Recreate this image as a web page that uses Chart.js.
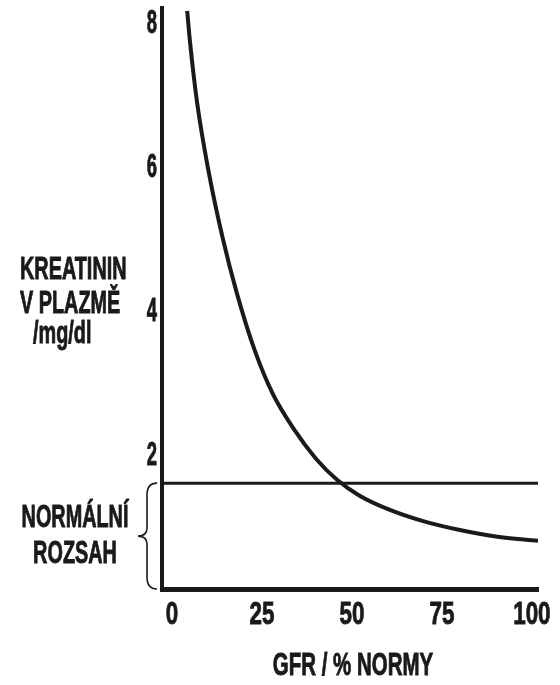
<!DOCTYPE html>
<html>
<head>
<meta charset="utf-8">
<script src="https://cdn.jsdelivr.net/npm/chart.js@4/dist/chart.umd.min.js"></script>
<style>
    html, body { margin: 0; padding: 0; background: #fff; }
    #wrap { position: relative; width: 560px; height: 685px; }
</style>
</head>
<body>
<div id="wrap"><canvas id="chart" width="560" height="685"></canvas></div>
<script>
// Curve: GFR (% of normal) vs plasma creatinine (mg/dl)
const gfrValues = [4.2, 5, 7, 10, 14, 18, 23, 28, 34, 40, 46, 52, 60, 70, 80, 90, 101.7];
const creatininValues = [8.14, 7.70, 6.85, 5.95, 5.00, 4.22, 3.42, 2.82, 2.32, 1.92, 1.62, 1.41, 1.22, 1.05, 0.93, 0.84, 0.78];

// Upper limit of the normal range (horizontal line)
const normalUpper = 1.58;

// Axis ranges and tick labels
const xRange = [-2.8, 101.7];
const yRange = [0.11, 8.18];
const xTicks = [0, 25, 50, 75, 100];
const yTicks = [2, 4, 6, 8];

const yTitleLines = ['KREATININ', 'V PLAZMĚ', '/mg/dl'];
const rangeLabelLines = ['NORMÁLNÍ', 'ROZSAH'];
const xTitle = 'GFR / % NORMY';

const ink = '#1a1a1a';
const fontFamily = '"Liberation Sans", Arial, sans-serif';

// Condensed bold text, like the original lettering
function drawText(ctx, text, x, y, align, size, squeeze) {
    ctx.save();
    ctx.font = `bold ${size}px ${fontFamily}`;
    ctx.fillStyle = ink;
    ctx.strokeStyle = ink;
    ctx.lineWidth = 0.9;
    ctx.textBaseline = 'alphabetic';
    const w = ctx.measureText(text).width * squeeze;
    let left = x;
    if (align === 'center') left = x - w / 2;
    if (align === 'right') left = x - w;
    ctx.translate(left, y);
    ctx.scale(squeeze, 1);
    ctx.textAlign = 'left';
    ctx.fillText(text, 0, 0);
    ctx.strokeText(text, 0, 0);
    ctx.restore();
}

const labelsPlugin = {
    id: 'labels',
    afterDraw(chart) {
        const ctx = chart.ctx;
        const xs = chart.scales.x;
        const ys = chart.scales.y;
        const area = chart.chartArea;

        // tick labels
        yTicks.forEach(v => drawText(ctx, String(v), 157, ys.getPixelForValue(v) + 12, 'right', 33, 0.56));
        xTicks.forEach(v => drawText(ctx, String(v), xs.getPixelForValue(v), 624, 'center', 32, 0.7));

        // axis titles
        drawText(ctx, yTitleLines[0], 20, 279, 'left', 31, 0.64);
        drawText(ctx, yTitleLines[1], 20, 313, 'left', 31, 0.64);
        drawText(ctx, yTitleLines[2], 33, 343, 'left', 31, 0.64);
        drawText(ctx, rangeLabelLines[0], 75, 527, 'center', 31, 0.64);
        drawText(ctx, rangeLabelLines[1], 75, 563, 'center', 31, 0.64);
        drawText(ctx, xTitle, 353, 675, 'center', 31, 0.66);

        // curly brace marking the normal range
        const top = ys.getPixelForValue(normalUpper);
        const bottom = area.bottom;
        const mid = (top + bottom) / 2;
        const xr = 157;
        const xm = 147;
        const xl = 138;
        ctx.save();
        ctx.strokeStyle = ink;
        ctx.lineWidth = 1.6;
        ctx.beginPath();
        ctx.moveTo(xr, top);
        ctx.quadraticCurveTo(xm, top, xm, top + 12);
        ctx.lineTo(xm, mid - 8);
        ctx.quadraticCurveTo(xm, mid, xl, mid);
        ctx.quadraticCurveTo(xm, mid, xm, mid + 8);
        ctx.lineTo(xm, bottom - 12);
        ctx.quadraticCurveTo(xm, bottom, xr, bottom);
        ctx.stroke();
        ctx.restore();
    }
};

const ctx = document.getElementById('chart').getContext('2d');
new Chart(ctx, {
    type: 'line',
    data: {
        datasets: [{
            data: gfrValues.map((g, i) => ({ x: g, y: creatininValues[i] })),
            borderColor: ink,
            borderWidth: 4,
            pointRadius: 0,
            cubicInterpolationMode: 'monotone',
            fill: false
        }, {
            data: [{ x: xRange[0], y: normalUpper }, { x: xRange[1], y: normalUpper }],
            borderColor: ink,
            borderWidth: 3,
            pointRadius: 0,
            fill: false
        }]
    },
    options: {
        responsive: false,
        animation: false,
        layout: {
            padding: { left: 162, right: 22, top: 8, bottom: 96 }
        },
        plugins: {
            legend: { display: false },
            tooltip: { enabled: false }
        },
        scales: {
            x: {
                type: 'linear',
                min: xRange[0],
                max: xRange[1],
                grid: { display: false },
                ticks: { display: false },
                border: { display: true, color: ink, width: 5 },
                afterFit: scale => { scale.height = 0; }
            },
            y: {
                type: 'linear',
                min: yRange[0],
                max: yRange[1],
                grid: { display: false },
                ticks: { display: false },
                border: { display: true, color: ink, width: 4 },
                afterFit: scale => { scale.width = 0; }
            }
        }
    },
    plugins: [labelsPlugin]
});
</script>
</body>
</html>
